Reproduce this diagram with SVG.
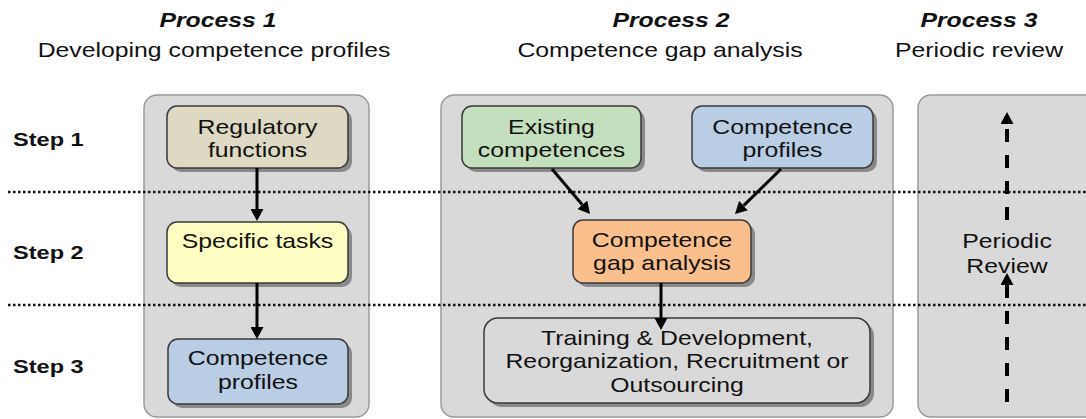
<svg xmlns="http://www.w3.org/2000/svg" width="1086" height="419" viewBox="0 0 1086 419">
<defs>
<style>
text{font-family:"Liberation Sans",Arial,sans-serif;font-size:20px;fill:#111;text-anchor:middle}
.title{font-weight:bold;font-style:italic}
.step{font-weight:bold;font-size:19px;text-anchor:start}
.panel{fill:#d9d9d9;stroke:#9a9a9a;stroke-width:1.5}
.shadow{fill:#8a8a8a}
.box{stroke:#3a3a3a;stroke-width:1.5}
.dots{stroke:#111;stroke-width:2.5;stroke-dasharray:2.5 2.5;fill:none}
.arrow{stroke:#000;stroke-width:3;fill:none;marker-end:url(#head)}
.dash{stroke:#000;stroke-width:4;fill:none;stroke-dasharray:13 13;marker-end:url(#head)}
</style>
<marker id="head" viewBox="0 0 12 13" markerUnits="userSpaceOnUse" markerWidth="12" markerHeight="13" refX="0" refY="6.5" orient="auto">
<path d="M0,0 L12,6.5 L0,13 z" fill="#000"/>
</marker>
</defs>
<rect width="1086" height="419" fill="#fff"/>

<g id="headers">
<text class="title" transform="translate(218,27) scale(1.24,1)">Process 1</text>
<text transform="translate(214,57) scale(1.24,1)">Developing competence profiles</text>
<text class="title" transform="translate(671,27) scale(1.24,1)">Process 2</text>
<text transform="translate(660,57) scale(1.24,1)">Competence gap analysis</text>
<text class="title" transform="translate(979,27) scale(1.24,1)">Process 3</text>
<text transform="translate(979,57) scale(1.24,1)">Periodic review</text>
</g>

<g id="panels">
<rect class="panel" x="144" y="95" width="225" height="322" rx="13"/>
<rect class="panel" x="441" y="95" width="452" height="322" rx="13"/>
<rect class="panel" x="918" y="95" width="190" height="322" rx="13"/>
</g>

<g id="steps">
<text class="step" transform="translate(13,146) scale(1.24,1)">Step 1</text>
<text class="step" transform="translate(13,259) scale(1.24,1)">Step 2</text>
<text class="step" transform="translate(13,373) scale(1.24,1)">Step 3</text>
</g>

<g id="separators">
<line class="dots" x1="8" y1="192" x2="1086" y2="192"/>
<line class="dots" x1="8" y1="305" x2="1086" y2="305"/>
</g>

<g id="regulatory-functions">
<rect class="shadow" x="171" y="110" width="181" height="62" rx="10"/>
<rect class="box" x="167" y="106" width="181" height="62" rx="10" fill="#ddd9c3"/>
<text transform="translate(257.5,134) scale(1.24,1)">Regulatory</text>
<text transform="translate(257.5,157) scale(1.24,1)">functions</text>
</g>

<g id="specific-tasks">
<rect class="shadow" x="171" y="226" width="181" height="61" rx="10"/>
<rect class="box" x="167" y="222" width="181" height="61" rx="10" fill="#ffffc4"/>
<text transform="translate(257.5,248) scale(1.24,1)">Specific tasks</text>
</g>

<g id="competence-profiles-1">
<rect class="shadow" x="172" y="343" width="180" height="65" rx="10"/>
<rect class="box" x="168" y="339" width="180" height="65" rx="10" fill="#b9cde5"/>
<text transform="translate(258,365) scale(1.24,1)">Competence</text>
<text transform="translate(258,389) scale(1.24,1)">profiles</text>
</g>

<g id="existing-competences">
<rect class="shadow" x="466" y="110" width="179" height="62" rx="10"/>
<rect class="box" x="462" y="106" width="179" height="62" rx="10" fill="#c3dfbd"/>
<text transform="translate(551.5,134) scale(1.24,1)">Existing</text>
<text transform="translate(551.5,157) scale(1.24,1)">competences</text>
</g>

<g id="competence-profiles-2">
<rect class="shadow" x="696" y="110" width="181" height="62" rx="10"/>
<rect class="box" x="692" y="106" width="181" height="62" rx="10" fill="#b9cde5"/>
<text transform="translate(782.5,134) scale(1.24,1)">Competence</text>
<text transform="translate(782.5,157) scale(1.24,1)">profiles</text>
</g>

<g id="gap-analysis">
<rect class="shadow" x="577" y="224" width="178" height="63" rx="10"/>
<rect class="box" x="573" y="220" width="178" height="63" rx="10" fill="#f9bf8d"/>
<text transform="translate(662,247) scale(1.24,1)">Competence</text>
<text transform="translate(662,270) scale(1.24,1)">gap analysis</text>
</g>

<g id="training">
<rect class="shadow" x="488" y="322" width="386" height="85" rx="14"/>
<rect class="box" x="484" y="318" width="386" height="85" rx="14" fill="#d9d9d9"/>
<text transform="translate(677,345) scale(1.24,1)">Training &amp; Development,</text>
<text transform="translate(677,368) scale(1.24,1)">Reorganization, Recruitment or</text>
<text transform="translate(677,392) scale(1.24,1)">Outsourcing</text>
</g>

<g id="periodic-review">
<text transform="translate(1007,248) scale(1.24,1)">Periodic</text>
<text transform="translate(1007,273) scale(1.24,1)">Review</text>
</g>

<g id="connectors">
<line class="arrow" x1="257" y1="168" x2="257" y2="209"/>
<line class="arrow" x1="257" y1="283" x2="257" y2="327"/>
<line class="arrow" x1="552" y1="169" x2="582.3" y2="204.8"/>
<line class="arrow" x1="781" y1="169" x2="743.6" y2="205.6"/>
<line class="arrow" x1="661" y1="283" x2="661" y2="318"/>
<line class="dash" x1="1007" y1="220" x2="1007" y2="124"/>
<line class="dash" x1="1007" y1="402" x2="1007" y2="285"/>
</g>
</svg>
